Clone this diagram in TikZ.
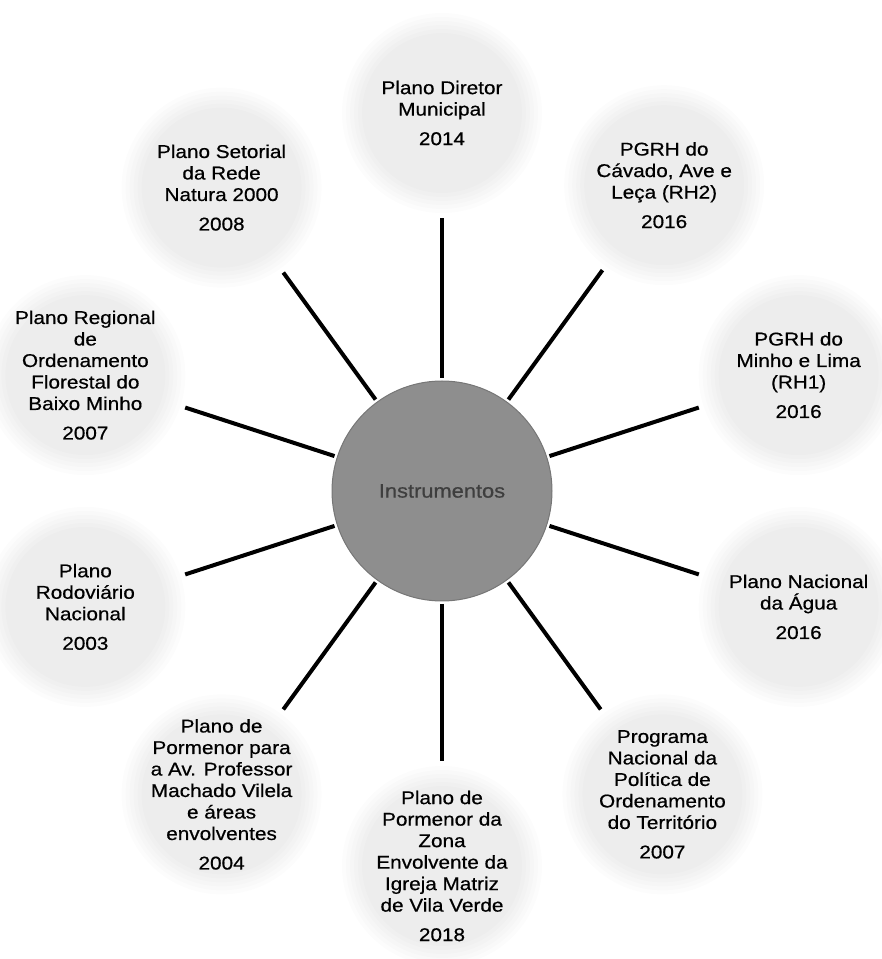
\documentclass[tikz,border=0pt]{standalone}
\usepackage{fontspec}
\setmainfont{Liberation Sans}
\newfontfamily\lblfont[FakeStretch=1.12,FakeBold=0.6]{Liberation Sans}
\usetikzlibrary{backgrounds,calc}
\definecolor{hubfill}{RGB}{142,142,142}
\definecolor{hubedge}{RGB}{118,118,118}
\definecolor{hubtext}{RGB}{62,62,62}
\tikzset{
  sat/.style={align=center, font=\lblfont\fontsize{18.5}{21.5}\selectfont, text=black, inner sep=0pt},
  spoke/.style={line width=4pt, black, shorten <=113pt, shorten >=105pt},
  hub/.style={circle, minimum size=220pt, inner sep=0pt, fill=hubfill, draw=hubedge, line width=1pt,
    font=\lblfont\fontsize{19.5}{22}\selectfont, text=hubtext},
}
\newcommand\softdisc[1]{\foreach \rr in {100,96,92,88,84,80}{\fill[black,opacity=0.011] (#1) circle[radius=\rr];}}
\begin{document}
\begin{tikzpicture}[x=1pt,y=1pt]
\useasboundingbox (0,0) rectangle (882,959);
\node[hub] (c) at (442,468) {Instrumentos};
\node[sat] (s1) at ($(c)+(90:378)$) {Plano Diretor\\Municipal\\[8pt]2014};
\node[sat] (s2) at ($(c)+(54:378)$) {PGRH do\\Cávado, Ave e\\Leça (RH2)\\[8pt]2016};
\node[sat] (s3) at ($(c)+(18:375)$) {PGRH do\\Minho e Lima\\(RH1)\\[8pt]2016};
\node[sat] (s4) at ($(c)+(-18:375)$) {Plano Nacional\\da Água\\[8pt]2016};
\node[sat] (s5) at ($(c)+(-54:375)$) {Programa\\Nacional da\\Política de\\Ordenamento\\do Território\\[8pt]2007};
\node[sat] (s6) at ($(c)+(-90:375)$) {Plano de\\Pormenor da\\Zona\\Envolvente da\\Igreja Matriz\\de Vila Verde\\[8pt]2018};
\node[sat] (s7) at ($(c)+(-126:375)$) {Plano de\\Pormenor para\\a Av. Professor\\Machado Vilela\\e áreas\\envolventes\\[8pt]2004};
\node[sat] (s8) at ($(c)+(-162:375)$) {Plano\\Rodoviário\\Nacional\\[8pt]2003};
\node[sat] (s9) at ($(c)+(162:375)$) {Plano Regional\\de\\Ordenamento\\Florestal do\\Baixo Minho\\[8pt]2007};
\node[sat] (s10) at ($(c)+(126:375)$) {Plano Setorial\\da Rede\\Natura 2000\\[8pt]2008};
\begin{scope}[on background layer]
  \foreach \n in {s1,s2,s3,s4,s5,s6,s7,s8,s9,s10}{\softdisc{\n}}
  \foreach \n in {s1,s2,s3,s4,s5,s6,s7,s8,s9,s10}{\draw[spoke] (c.center) -- (\n.center);}
\end{scope}
\end{tikzpicture}
\end{document}
